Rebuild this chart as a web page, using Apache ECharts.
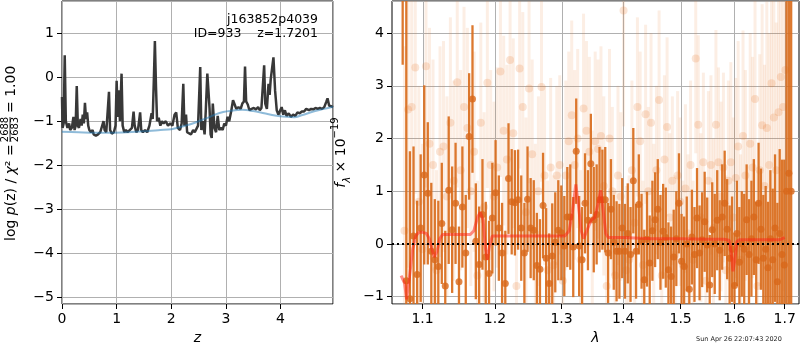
<!DOCTYPE html>
<html>
<head>
<meta charset="utf-8">
<title>redshift fit</title>
<script src="https://cdn.jsdelivr.net/npm/echarts@6/dist/echarts.min.js"></script>
<style>
  html, body { margin: 0; padding: 0; background: #fff; }
  #main { width: 800px; height: 350px; }
</style>
</head>
<body>
<div id="main"></div>
<script>
// ---- left panel: log p(z) ----
var zGrid = [0.00, 0.01, 0.03, 0.05, 0.07, 0.10, 0.13, 0.15, 0.18, 0.21, 0.23, 0.25, 0.27, 0.29, 0.31, 0.34, 0.36, 0.38, 0.40, 0.42,
  0.44, 0.46, 0.48, 0.50, 0.53, 0.56, 0.58, 0.62, 0.66, 0.70, 0.73, 0.76, 0.78, 0.81, 0.84, 0.86, 0.88, 0.91, 0.95, 0.98,
  1.00, 1.02, 1.04, 1.06, 1.09, 1.11, 1.14, 1.17, 1.20, 1.24, 1.28, 1.31, 1.33, 1.36, 1.39, 1.43, 1.45, 1.48, 1.52, 1.56,
  1.60, 1.64, 1.66, 1.68, 1.70, 1.72, 1.74, 1.77, 1.80, 1.83, 1.86, 1.90, 1.94, 1.98, 2.02, 2.06, 2.09, 2.12, 2.16, 2.19,
  2.22, 2.24, 2.27, 2.29, 2.32, 2.36, 2.40, 2.43, 2.46, 2.49, 2.53, 2.55, 2.58, 2.61, 2.63, 2.66, 2.68, 2.70, 2.72, 2.74,
  2.76, 2.79, 2.82, 2.85, 2.88, 2.91, 2.94, 2.97, 3.00, 3.03, 3.06, 3.10, 3.13, 3.16, 3.19, 3.23, 3.27, 3.30, 3.33, 3.35,
  3.37, 3.40, 3.43, 3.47, 3.51, 3.55, 3.59, 3.62, 3.65, 3.70, 3.72, 3.75, 3.78, 3.80, 3.82, 3.87, 3.90, 3.93, 3.96, 3.99,
  4.02, 4.05, 4.08, 4.11, 4.15, 4.19, 4.23, 4.27, 4.31, 4.35, 4.39, 4.43, 4.47, 4.52, 4.56, 4.60, 4.64, 4.68, 4.72, 4.76,
  4.80, 4.84, 4.86, 4.89, 4.93, 4.96];
var logPz = [-0.45, -1.15, -1.05, 0.50, -1.00, -1.15, -1.05, -1.20, -1.15, -0.90, -1.20, -1.10, -0.20, -1.10, -1.15, -0.95, -1.10, -0.85, -1.05, -0.58,
  -0.95, -0.80, -1.10, -1.20, -1.25, -1.20, -1.30, -1.33, -1.30, -1.25, -1.22, -1.00, -1.20, -1.25, -1.22, -0.33, -1.20, -1.28, -1.25, -1.10,
  -0.08, -0.90, -0.30, -1.00, 0.08, -1.10, -1.25, -1.20, -1.25, -1.20, -1.15, -0.78, -1.10, -1.25, -1.20, -0.80, -1.20, -1.25, -1.20, -1.25,
  -1.10, -0.82, -0.95, -0.10, 0.82, -0.20, -1.00, -0.92, -1.10, -1.00, -1.05, -1.00, -1.10, -1.05, -1.10, -0.85, -0.80, -1.15, -1.20, -1.05,
  -0.15, -1.10, -0.85, -1.25, -1.22, -1.30, -1.20, -1.25, -1.28, -1.10, 0.23, -1.20, -1.00, -1.30, -0.80, 0.08, -0.30, -0.70, -1.30, -1.38,
  -0.60, -1.15, -1.25, -0.88, -1.20, -1.15, -1.20, -1.05, -1.10, -0.90, -1.00, -0.75, -0.52, -0.62, -0.72, -0.68, -0.72, -0.60, -0.55, 0.24,
  -0.55, -0.62, -0.75, -0.72, -0.70, -0.73, -0.68, -0.75, -0.70, 0.27, -0.60, -0.72, -0.15, -0.40, -0.05, 0.45, -0.30, -0.75, -0.85, -0.85,
  -0.68, -0.85, -0.75, -0.88, -0.82, -0.90, -0.85, -0.88, -0.80, -0.82, -0.78, -0.78, -0.72, -0.75, -0.72, -0.73, -0.70, -0.72, -0.70, -0.72,
  -0.68, -0.55, -0.48, -0.65, -0.66, -0.68];
var zSmooth = [0, 0.3, 0.6, 0.9, 1.2, 1.5, 1.8, 2.0, 2.2, 2.35, 2.5, 2.65, 2.8, 2.95, 3.1, 3.3, 3.5, 3.7, 3.9, 4.1, 4.25, 4.4, 4.6, 4.8, 4.96];
var logPzSmooth = [-1.24, -1.25, -1.26, -1.26, -1.25, -1.23, -1.20, -1.18, -1.12, -1.07, -1.00, -0.93, -0.85, -0.79, -0.76, -0.74, -0.77, -0.82, -0.87, -0.90, -0.91, -0.86, -0.78, -0.72, -0.67];

// ---- right panel: spectrum ----
var lamA = [1.0740, 1.0787, 1.0834, 1.0881, 1.0928, 1.0975, 1.1022, 1.1069, 1.1116, 1.1163,
  1.1210, 1.1257, 1.1304, 1.1351, 1.1398, 1.1445, 1.1492, 1.1539, 1.1586, 1.1633,
  1.1680, 1.1727, 1.1774, 1.1821, 1.1868, 1.1915, 1.1962, 1.2009, 1.2056, 1.2103,
  1.2150, 1.2197, 1.2244, 1.2291, 1.2338, 1.2385, 1.2432, 1.2479, 1.2526, 1.2573,
  1.2620, 1.2667, 1.2714, 1.2761, 1.2808, 1.2855, 1.2902, 1.2949, 1.2996, 1.3043,
  1.3090, 1.3137, 1.3184, 1.3231, 1.3278, 1.3325, 1.3372, 1.3419, 1.3466, 1.3513,
  1.3560, 1.3607, 1.3654, 1.3701, 1.3748, 1.3795, 1.3842, 1.3889, 1.3936, 1.3983,
  1.4030, 1.4077, 1.4124, 1.4171, 1.4218, 1.4265, 1.4312, 1.4359, 1.4406, 1.4453,
  1.4500, 1.4547, 1.4594, 1.4641, 1.4688, 1.4735, 1.4782, 1.4829, 1.4876, 1.4923,
  1.4970, 1.5017, 1.5064, 1.5111, 1.5158, 1.5205, 1.5252, 1.5299, 1.5346, 1.5393,
  1.5440, 1.5487, 1.5534, 1.5581, 1.5628, 1.5675, 1.5722, 1.5769, 1.5816, 1.5863,
  1.5910, 1.5957, 1.6004, 1.6051, 1.6098, 1.6145, 1.6192, 1.6239, 1.6286, 1.6333,
  1.6380, 1.6427, 1.6474, 1.6521, 1.6568, 1.6615, 1.6662, 1.6709, 1.6756, 1.6803,
  1.6850, 1.6897, 1.6944, 1.6991, 1.7038, 1.7085, 1.7132];
var fluxA = [6.00, -0.70, -1.04, 0.15, -0.58, 0.30, 1.31, 0.96, -0.14, -0.30,
  -0.43, 0.39, -0.80, 1.02, 0.27, 0.77, -0.72, 0.70, -0.17, 2.04,
  2.75, 0.05, -0.39, 0.56, -0.25, -0.56, 0.49, 0.97, 0.30, -0.17,
  -0.75, 1.24, 0.80, 0.78, 0.84, 0.30, -0.17, 0.85, 0.30, 0.26,
  -0.41, -0.48, 0.73, -0.27, -0.75, -0.23, 0.03, 0.26, 0.21, -0.04,
  0.51, 0.51, -0.06, 1.76, -0.04, -0.30, 0.77, 0.45, 1.52, 0.46,
  0.56, 0.84, 0.84, 0.84, -0.17, 0.66, 0.03, -0.14, -0.14, 0.30,
  -0.14, 0.20, -0.20, 1.20, -0.14, 0.75, 0.05, -0.68, 0.09, -0.36,
  0.25, 0.46, 0.66, 0.03, 0.24, 0.12, -0.49, -0.62, -0.25, 0.10,
  0.77, -0.33, -0.43, 0.00, -0.86, 0.13, -0.20, 0.49, -0.17, 0.08,
  0.42, -0.02, -0.78, 0.27, 0.00, 0.45, -0.12, 0.51, 0.77, 0.28,
  -0.27, -0.10, -0.79, 0.20, -0.35, 0.00, -0.10, 0.46, -0.20, 0.10,
  0.51, -0.30, 0.77, 0.28, -0.27, -0.10, -0.45, 0.10, -0.30, 0.30,
  -0.72, 0.20, -0.20, -0.40, 1.00, 1.34, 1.00];
var errA = [2.6, 5.5, 2.8, 1.7, 1.4, 1.4, 1.7, 1.35, 1.3, 1.15,
  1.25, 1.15, 1.05, 1.4, 1.2, 1.15, 1.05, 1.15, 1.1, 1.2,
  1.4, 1.1, 1.1, 1.05, 1.05, 1.0, 1.05, 1.0, 1.0, 0.95,
  1.0, 1.05, 1.0, 1.0, 0.95, 1.0, 0.95, 1.0, 0.95, 0.95,
  1.0, 0.95, 1.0, 0.95, 0.95, 1.0, 0.95, 0.95, 0.9, 0.95,
  0.95, 1.0, 0.95, 1.0, 0.95, 1.0, 0.95, 0.95, 0.95, 1.0,
  0.95, 1.0, 0.95, 1.0, 0.95, 0.95, 0.9, 0.95, 0.9, 0.95,
  0.9, 0.95, 0.9, 1.0, 0.9, 0.95, 0.9, 0.95, 0.9, 0.9,
  0.95, 0.9, 0.95, 0.9, 0.9, 0.95, 0.9, 0.95, 0.9, 0.9,
  0.95, 0.9, 0.95, 0.9, 0.95, 0.9, 0.9, 0.95, 0.9, 0.9,
  0.95, 0.9, 0.95, 0.9, 0.95, 0.95, 0.95, 1.0, 1.0, 0.95,
  1.0, 1.0, 1.0, 1.0, 1.05, 1.0, 1.05, 1.05, 1.05, 1.1,
  1.1, 1.1, 1.15, 1.15, 1.2, 1.2, 1.25, 1.3, 1.35, 1.4,
  1.5, 1.6, 1.8, 2.0, 5.0, 6.0, 6.0];

var lamB = [1.0763, 1.0810, 1.0857, 1.0904, 1.0951, 1.0998, 1.1045, 1.1092, 1.1139, 1.1186,
  1.1233, 1.1280, 1.1327, 1.1374, 1.1421, 1.1468, 1.1515, 1.1562, 1.1609, 1.1656,
  1.1703, 1.1750, 1.1797, 1.1844, 1.1891, 1.1938, 1.1985, 1.2032, 1.2079, 1.2126,
  1.2173, 1.2220, 1.2267, 1.2314, 1.2361, 1.2408, 1.2455, 1.2502, 1.2549, 1.2596,
  1.2643, 1.2690, 1.2737, 1.2784, 1.2831, 1.2878, 1.2925, 1.2972, 1.3019, 1.3066,
  1.3113, 1.3160, 1.3207, 1.3254, 1.3301, 1.3348, 1.3395, 1.3442, 1.3489, 1.3536,
  1.3583, 1.3630, 1.3677, 1.3724, 1.3771, 1.3818, 1.3865, 1.3912, 1.3959, 1.4006,
  1.4053, 1.4100, 1.4147, 1.4194, 1.4241, 1.4288, 1.4335, 1.4382, 1.4429, 1.4476,
  1.4523, 1.4570, 1.4617, 1.4664, 1.4711, 1.4758, 1.4805, 1.4852, 1.4899, 1.4946,
  1.4993, 1.5040, 1.5087, 1.5134, 1.5181, 1.5228, 1.5275, 1.5322, 1.5369, 1.5416,
  1.5463, 1.5510, 1.5557, 1.5604, 1.5651, 1.5698, 1.5745, 1.5792, 1.5839, 1.5886,
  1.5933, 1.5980, 1.6027, 1.6074, 1.6121, 1.6168, 1.6215, 1.6262, 1.6309, 1.6356,
  1.6403, 1.6450, 1.6497, 1.6544, 1.6591, 1.6638, 1.6685, 1.6732, 1.6779, 1.6826,
  1.6873, 1.6920, 1.6967, 1.7014];
var fluxB = [0.25, 2.55, 2.60, 3.35, 0.80, -0.10, 3.37, 1.90, 1.50, -0.50,
  1.75, 1.85, 0.90, 2.30, 1.20, 3.07, 1.40, 2.60, 2.20, 1.00,
  1.75, -0.60, 2.30, 0.70, 3.06, 1.50, 0.90, 1.45, 3.27, 2.15,
  1.60, 3.49, 2.10, -0.80, 3.33, 2.60, 0.60, 2.95, 1.70, 0.20,
  1.00, 2.98, 1.30, -0.50, 1.45, -0.40, 1.30, 1.50, -0.70, 1.30,
  1.95, 2.44, 1.50, 2.00, -0.30, 2.57, 2.15, 1.75, 0.45, 1.95,
  1.80, 2.05, 1.10, -0.80, 2.00, 1.00, -0.60, 1.30, 0.90, 4.43,
  -0.50, -0.30, 1.40, 0.40, 2.60, 1.95, -0.40, 2.46, 1.00, 2.30,
  0.30, 1.40, 2.73, -0.60, 1.60, 2.22, 0.50, 1.20, -0.20, 1.30,
  0.80, -0.40, 1.05, 0.20, 1.50, -0.30, 3.52, 2.26, 0.50, 1.55,
  -0.70, 1.20, 1.50, 0.30, 2.26, 1.55, 0.90, 1.45, -0.50, 1.20,
  1.55, 0.50, 1.25, 1.85, -0.30, 2.05, 1.30, 0.00, 1.90, 1.45,
  2.75, -0.80, 1.40, 2.25, 1.10, 2.20, 1.50, 3.05, 2.40, 1.40,
  2.50, 3.17, 2.60, 3.30];
var errB = [3.5, 3.0, 2.6, 2.4, 2.2, 2.0, 2.3, 2.2, 2.0, 1.9,
  2.0, 2.0, 1.9, 2.0, 1.9, 2.0, 1.9, 1.9, 1.9, 1.8,
  1.9, 1.8, 1.9, 1.8, 2.0, 1.8, 1.8, 1.9, 2.0, 1.8,
  1.8, 1.9, 1.8, 1.8, 1.9, 1.8, 1.8, 1.8, 1.8, 1.7,
  1.8, 1.8, 1.7, 1.7, 1.7, 1.7, 1.7, 1.7, 1.7, 1.8,
  1.7, 1.8, 1.8, 1.7, 1.7, 1.8, 1.7, 1.8, 1.7, 1.7,
  1.7, 1.7, 1.7, 1.6, 1.7, 1.6, 1.6, 1.7, 1.6, 2.2,
  1.6, 1.6, 1.7, 1.6, 1.7, 1.7, 1.6, 1.7, 1.6, 1.7,
  1.6, 1.6, 1.7, 1.6, 1.6, 1.7, 1.6, 1.6, 1.5, 1.6,
  1.6, 1.6, 1.6, 1.5, 1.6, 1.5, 1.8, 1.7, 1.6, 1.7,
  1.6, 1.7, 1.7, 1.7, 1.8, 1.8, 1.8, 1.8, 1.8, 1.9,
  1.9, 1.9, 1.9, 2.0, 2.0, 2.0, 2.0, 2.0, 2.1, 2.1,
  2.2, 2.2, 2.2, 2.3, 2.3, 2.4, 2.5, 2.6, 2.6, 2.8,
  3.0, 3.2, 3.5, 3.8];

var lamModel = [1.0720, 1.0765, 1.0790, 1.0830, 1.0870, 1.0910, 1.0950, 1.1000, 1.1050, 1.1090,
  1.1125, 1.1155, 1.1190, 1.1230, 1.1270, 1.1350, 1.1450, 1.1550, 1.1650, 1.1700,
  1.1750, 1.1790, 1.1830, 1.1865, 1.1890, 1.1920, 1.1960, 1.2100, 1.2300, 1.2500,
  1.2700, 1.2900, 1.3050, 1.3120, 1.3170, 1.3225, 1.3270, 1.3310, 1.3350, 1.3400,
  1.3470, 1.3530, 1.3580, 1.3625, 1.3670, 1.3710, 1.3750, 1.4000, 1.4500, 1.5000,
  1.5500, 1.5800, 1.5900, 1.5940, 1.5975, 1.6010, 1.6050, 1.6100, 1.6500, 1.6900,
  1.7000];
var fluxModel = [-0.60, -0.75, -1.05, -0.60, -0.10, 0.15, 0.22, 0.22, 0.20, 0.10,
  -0.10, -0.25, -0.15, 0.10, 0.18, 0.18, 0.18, 0.18, 0.18, 0.25,
  0.50, 0.60, 0.45, -0.10, -0.30, -0.05, 0.15, 0.15, 0.15, 0.15,
  0.15, 0.15, 0.15, 0.25, 0.60, 1.13, 0.70, 0.25, 0.10, 0.25,
  0.45, 0.50, 0.75, 1.02, 0.60, 0.20, 0.12, 0.12, 0.10, 0.10,
  0.09, 0.09, 0.07, -0.15, -0.52, -0.30, 0.05, 0.08, 0.08, 0.08,
  0.12];

var lamTicks = [1.1, 1.2, 1.3, 1.4, 1.5, 1.6, 1.7];

// ---------------------------------------------------------------
var font = 'DejaVu Sans';
var lamMin = 1.0603, lamMax = 1.7294;
var fMin = -1.14, fMax = 4.61;

function pairs(xs, ys) {
    return xs.map(function (x, i) { return [x, ys[i]]; });
}
function spec(lams, f, e) {
    return lams.map(function (l, i) { return [Math.log(l), f[i], e[i]]; });
}
function minus(v) {
    return String(v).replace('-', '\u2212');
}
function errBar(color, w) {
    return function (params, api) {
        var x = api.value(0), y = api.value(1), e = api.value(2);
        var p1 = api.coord([x, y + e]);
        var p2 = api.coord([x, y - e]);
        return {
            type: 'rect',
            shape: { x: p1[0] - w / 2, y: p1[1], width: w, height: p2[1] - p1[1] },
            style: { fill: color }
        };
    };
}

var tickLabel = { color: '#000', fontSize: 14, fontFamily: font, margin: 8 };
var gridLine = { show: true, lineStyle: { color: '#b0b0b0', width: 1, type: 'solid' } };
var ticks = { show: true, length: 5, lineStyle: { color: '#000', width: 1 } };

var chart = echarts.init(document.getElementById('main'));

var option = {
    animation: false,
    textStyle: { fontFamily: font },
    grid: [
        { left: 62, top: 1, width: 271, height: 303, show: true, borderColor: '#000', borderWidth: 1, outerBoundsMode: 'none' },
        { left: 392, top: 1, width: 407, height: 303, show: true, borderColor: '#000', borderWidth: 1, outerBoundsMode: 'none' }
    ],
    xAxis: [
        {
            gridIndex: 0, type: 'value', min: 0, max: 4.96,
            name: 'z', nameLocation: 'middle', nameGap: 26,
            nameTextStyle: { fontStyle: 'italic', fontSize: 14, color: '#000', fontFamily: font },
            axisLine: { show: false, onZero: false },
            axisTick: ticks,
            axisLabel: Object.assign({ showMaxLabel: false, formatter: minus }, tickLabel),
            splitLine: gridLine
        },
        {
            gridIndex: 1, type: 'value', min: Math.log(lamMin), max: Math.log(lamMax),
            name: 'λ', nameLocation: 'middle', nameGap: 26,
            nameTextStyle: { fontStyle: 'italic', fontSize: 14, color: '#000', fontFamily: font },
            axisLine: { show: false, onZero: false },
            axisTick: Object.assign({ customValues: lamTicks.map(Math.log) }, ticks),
            axisLabel: Object.assign({
                customValues: lamTicks.map(Math.log),
                formatter: function (v) { return Math.exp(v).toFixed(1); }
            }, tickLabel),
            splitLine: { show: false }
        }
    ],
    yAxis: [
        {
            gridIndex: 0, type: 'value', min: -5.15, max: 1.73,
            axisLine: { show: false, onZero: false },
            axisTick: ticks,
            axisLabel: Object.assign({ showMinLabel: false, showMaxLabel: false, formatter: minus }, tickLabel),
            splitLine: gridLine
        },
        {
            gridIndex: 1, type: 'value', min: fMin, max: fMax,
            name: '{i|f}{s|λ}{n| × 10}{p|−19}', nameLocation: 'middle', nameRotate: 90, nameGap: 39,
            nameTextStyle: {
                color: '#000',
                rich: {
                    i: { fontSize: 14, fontStyle: 'italic', fontFamily: font, lineHeight: 22, verticalAlign: 'middle' },
                    s: { fontSize: 10, fontStyle: 'italic', fontFamily: font, verticalAlign: 'bottom' },
                    n: { fontSize: 14, fontFamily: font, lineHeight: 22, verticalAlign: 'middle' },
                    p: { fontSize: 10, fontFamily: font, verticalAlign: 'top' }
                }
            },
            axisLine: { show: false, onZero: false },
            axisTick: ticks,
            axisLabel: Object.assign({ showMinLabel: false, showMaxLabel: false, formatter: minus }, tickLabel),
            splitLine: gridLine
        }
    ],
    series: [
        {
            type: 'line', xAxisIndex: 0, yAxisIndex: 0, data: pairs(zGrid, logPz),
            showSymbol: false, clip: true, z: 3,
            lineStyle: { color: '#383838', width: 2.5 }
        },
        {
            type: 'line', xAxisIndex: 0, yAxisIndex: 0, data: pairs(zSmooth, logPzSmooth),
            showSymbol: false, clip: true, z: 4, smooth: 0.3,
            lineStyle: { color: 'rgba(31,119,180,0.5)', width: 2 }
        },
        {
            // vertical grid lines on the log-wavelength axis
            type: 'custom', xAxisIndex: 1, yAxisIndex: 1, z: 1, silent: true,
            data: lamTicks.map(function (l) { return [Math.log(l), 0]; }),
            renderItem: function (params, api) {
                var a = api.coord([api.value(0), fMin]);
                var b = api.coord([api.value(0), fMax]);
                var x = Math.round(a[0]) + 0.5;
                return { type: 'line', shape: { x1: x, y1: a[1], x2: x, y2: b[1] },
                         style: { stroke: '#b0b0b0', lineWidth: 1 } };
            }
        },
        {
            type: 'custom', xAxisIndex: 1, yAxisIndex: 1, z: 2, clip: true, silent: true,
            data: spec(lamB, fluxB, errB),
            encode: { x: 0, y: 1 },
            renderItem: errBar('rgba(228,120,45,0.13)', 3)
        },
        {
            type: 'scatter', xAxisIndex: 1, yAxisIndex: 1, z: 2, clip: true, silent: true,
            data: spec(lamB, fluxB, errB),
            symbolSize: 8,
            itemStyle: { color: 'rgba(228,120,45,0.25)' }
        },
        {
            type: 'custom', xAxisIndex: 1, yAxisIndex: 1, z: 3, clip: true, silent: true,
            data: spec(lamA, fluxA, errA),
            encode: { x: 0, y: 1 },
            renderItem: errBar('rgba(217,108,28,0.92)', 2.3)
        },
        {
            type: 'scatter', xAxisIndex: 1, yAxisIndex: 1, z: 3, clip: true, silent: true,
            data: spec(lamA, fluxA, errA),
            symbolSize: 7,
            itemStyle: { color: '#d8681a' }
        },
        {
            type: 'line', xAxisIndex: 1, yAxisIndex: 1, z: 4, clip: true, silent: true,
            data: pairs(lamModel.map(Math.log), fluxModel),
            showSymbol: false,
            lineStyle: { color: 'rgba(255,30,20,0.5)', width: 3 },
            markLine: {
                silent: true, symbol: ['none', 'none'], label: { show: false },
                lineStyle: { color: '#000', width: 2, type: [2, 3] },
                data: [{ yAxis: 0 }]
            }
        }
    ],
    graphic: [
        {
            type: 'text', x: 318, y: 13, z: 10,
            style: {
                text: 'j163852p4039\nID=933    z=1.7201',
                align: 'right', textAlign: 'right', verticalAlign: 'top', textVerticalAlign: 'top',
                fontSize: 12.5, fontFamily: font, lineHeight: 13.5, fill: '#000'
            }
        },
        {
            // log p(z) axis label with a stacked fraction
            type: 'group', x: 11.5, y: 241, rotation: Math.PI / 2,
            children: [
                {
                    type: 'text', x: 0, y: 0,
                    style: {
                        text: '{n|log }{i|p}{n|(z) / }{i|χ}{n|² =}',
                        align: 'left', textAlign: 'left', verticalAlign: 'middle', textVerticalAlign: 'middle',
                        fill: '#000',
                        rich: {
                            n: { fontSize: 14, fontFamily: font },
                            i: { fontSize: 14, fontFamily: font, fontStyle: 'italic' }
                        }
                    }
                },
                {
                    type: 'text', x: 111.5, y: -6.5,
                    style: { text: '2688', fontSize: 10, fontFamily: font, fill: '#000',
                             align: 'center', textAlign: 'center', verticalAlign: 'middle', textVerticalAlign: 'middle' }
                },
                {
                    type: 'line', shape: { x1: 99, y1: -1.5, x2: 124, y2: -1.5 },
                    style: { stroke: '#000', lineWidth: 0.8 }
                },
                {
                    type: 'text', x: 111.5, y: 4,
                    style: { text: '2683', fontSize: 10, fontFamily: font, fill: '#000',
                             align: 'center', textAlign: 'center', verticalAlign: 'middle', textVerticalAlign: 'middle' }
                },
                {
                    type: 'text', x: 128, y: 0,
                    style: { text: '= 1.00', fontSize: 14, fontFamily: font, fill: '#000',
                             align: 'left', textAlign: 'left', verticalAlign: 'middle', textVerticalAlign: 'middle' }
                }
            ]
        },
        {
            type: 'text', x: 696, y: 339,
            style: { text: 'Sun Apr 26 22:07:43 2020', fontSize: 6.5, fontFamily: font, fill: '#222',
                     verticalAlign: 'middle', textVerticalAlign: 'middle' }
        }
    ]
};

chart.setOption(option);
</script>
</body>
</html>
